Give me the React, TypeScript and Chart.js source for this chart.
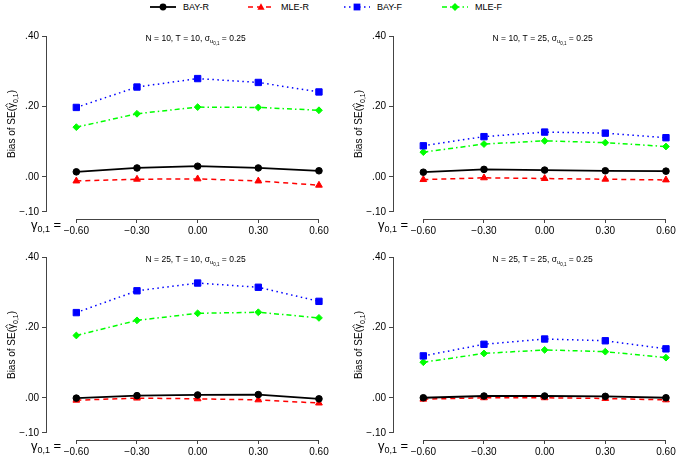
import { useEffect, useRef } from "react";
import { Chart, registerables } from "chart.js";

Chart.register(...registerables);

const FONT = "'Liberation Sans', Arial, Helvetica, sans-serif";

// x: gamma_{0,1} values, y: bias of SE
const gammaValues = [-0.6, -0.3, 0, 0.3, 0.6];
const xTickLabels = ["−0.60", "−0.30", "0.00", "0.30", "0.60"];
const yTickValues = [-0.1, 0, 0.2, 0.4];
const yTickLabels = ["−.10", ".00", ".20", ".40"];

const seriesNames = ["BAY-R", "MLE-R", "BAY-F", "MLE-F"];

const panelN = [10, 10, 25, 25];
const panelT = [10, 25, 10, 25];
const panelSigma = ["0.25", "0.25", "0.25", "0.25"];

// N = 10, T = 10
const bayR_10_10 = [0.014, 0.025, 0.03, 0.025, 0.017];
const mleR_10_10 = [-0.012, -0.007, -0.006, -0.012, -0.024];
const bayF_10_10 = [0.197, 0.255, 0.279, 0.268, 0.241];
const mleF_10_10 = [0.141, 0.179, 0.198, 0.197, 0.189];

// N = 10, T = 25
const bayR_10_25 = [0.013, 0.021, 0.019, 0.017, 0.016];
const mleR_10_25 = [-0.008, -0.003, -0.005, -0.007, -0.009];
const bayF_10_25 = [0.088, 0.114, 0.127, 0.124, 0.111];
const mleF_10_25 = [0.07, 0.093, 0.102, 0.097, 0.086];

// N = 25, T = 10
const bayR_25_10 = [-0.001, 0.006, 0.008, 0.009, -0.003];
const mleR_25_10 = [-0.007, -0.001, -0.003, -0.006, -0.015];
const bayF_25_10 = [0.242, 0.304, 0.326, 0.314, 0.274];
const mleF_25_10 = [0.177, 0.22, 0.24, 0.243, 0.227];

// N = 25, T = 25
const bayR_25_25 = [0.0, 0.005, 0.005, 0.004, 0.0];
const mleR_25_25 = [-0.004, 0.0, 0.0, -0.002, -0.006];
const bayF_25_25 = [0.119, 0.152, 0.167, 0.162, 0.139];
const mleF_25_25 = [0.101, 0.126, 0.136, 0.131, 0.114];

const panelSeries = [
  [bayR_10_10, mleR_10_10, bayF_10_10, mleF_10_10],
  [bayR_10_25, mleR_10_25, bayF_10_25, mleF_10_25],
  [bayR_25_10, mleR_25_10, bayF_25_10, mleF_25_10],
  [bayR_25_25, mleR_25_25, bayF_25_25, mleF_25_25],
];

// styles
const seriesColors = ["#000000", "#FF0000", "#0000FF", "#00FF00"];
const seriesDash = [[], [5, 4], [1.5, 3.5], [5, 3, 1.5, 3]];
const seriesMarkers = ["circle", "triangle", "rect", "rectRot"];
const seriesRadius = [3.3, 3.9, 4.5, 3.4];
const seriesWidth = [1.8, 1.5, 1.5, 1.5];

type Part = { t: string; size: number; dy?: number; hat?: boolean };

function partsWidth(ctx: CanvasRenderingContext2D, parts: Part[]) {
  let w = 0;
  for (const p of parts) {
    ctx.font = `${p.size}px ${FONT}`;
    w += ctx.measureText(p.t).width;
  }
  return w;
}

function drawParts(ctx: CanvasRenderingContext2D, parts: Part[], x: number, y: number) {
  let cx = x;
  ctx.textAlign = "left";
  ctx.textBaseline = "alphabetic";
  for (const p of parts) {
    ctx.font = `${p.size}px ${FONT}`;
    const w = ctx.measureText(p.t).width;
    ctx.fillText(p.t, cx, y + (p.dy || 0));
    if (p.hat) {
      // circumflex over the glyph
      const mid = cx + w / 2;
      const top = y - p.size * 0.92;
      ctx.save();
      ctx.strokeStyle = "#000";
      ctx.lineWidth = 0.9;
      ctx.beginPath();
      ctx.moveTo(mid - 2, top + 2);
      ctx.lineTo(mid, top);
      ctx.lineTo(mid + 2, top + 2);
      ctx.stroke();
      ctx.restore();
    }
    cx += w;
  }
}

function Panel({ index, left, top, width, height, padRight }: any) {
  const canvasRef = useRef<HTMLCanvasElement>(null);

  useEffect(() => {
    if (!canvasRef.current) return;

    const decor = {
      id: "panelDecor",
      afterDraw(chart: any) {
        const { ctx, chartArea, scales } = chart;
        const x = scales.x;
        const y = scales.y;
        ctx.save();
        ctx.strokeStyle = "#444";
        ctx.lineWidth = 1;
        // axis lines, R style (only between end ticks)
        const ax = Math.round(chartArea.left) + 0.5;
        ctx.beginPath();
        ctx.moveTo(ax, y.getPixelForValue(0.4));
        ctx.lineTo(ax, y.getPixelForValue(-0.1));
        ctx.stroke();
        const ay = Math.round(chartArea.bottom) + 0.5;
        ctx.beginPath();
        ctx.moveTo(x.getPixelForValue(-0.6), ay);
        ctx.lineTo(x.getPixelForValue(0.6), ay);
        ctx.stroke();

        ctx.fillStyle = "#000";

        // panel title
        const title: Part[] = [
          { t: `N = ${panelN[index]}, T = ${panelT[index]}, σ`, size: 8.5 },
          { t: "u", size: 6, dy: 2 },
          { t: "0,1", size: 4.5, dy: 3.5 },
          { t: ` = ${panelSigma[index]}`, size: 8.5 },
        ];
        const tw = partsWidth(ctx, title);
        drawParts(ctx, title, x.getPixelForValue(0) - 2 - tw / 2, chartArea.top + 5);

        // y axis title
        const yTitle: Part[] = [
          { t: "Bias of SE(", size: 10 },
          { t: "γ", size: 10, hat: true },
          { t: "0,1", size: 7, dy: 2.5 },
          { t: ")", size: 10 },
        ];
        const yw = partsWidth(ctx, yTitle);
        ctx.save();
        ctx.translate(11.5, (y.getPixelForValue(0.4) + y.getPixelForValue(-0.1)) / 2);
        ctx.rotate(-Math.PI / 2);
        drawParts(ctx, yTitle, -yw / 2, 3.5);
        ctx.restore();

        // gamma label before the x ticks
        const gLabel: Part[] = [
          { t: "γ", size: 13 },
          { t: "0,1", size: 9, dy: 2.5 },
          { t: " =", size: 13 },
        ];
        drawParts(ctx, gLabel, 31, chartArea.bottom + 10);
        ctx.restore();
      },
    };

    const series = panelSeries[index];
    const chart = new Chart(canvasRef.current, {
      type: "line",
      data: {
        datasets: series.map((vals: number[], i: number) => ({
          label: seriesNames[i],
          data: gammaValues.map((g, j) => ({ x: g, y: vals[j] })),
          borderColor: seriesColors[i],
          backgroundColor: seriesColors[i],
          borderWidth: seriesWidth[i],
          borderDash: seriesDash[i],
          pointStyle: seriesMarkers[i] as any,
          pointRadius: seriesRadius[i],
          pointBorderWidth: 1,
          pointBackgroundColor: seriesColors[i],
          pointBorderColor: seriesColors[i],
          tension: 0,
        })),
      },
      options: {
        responsive: false,
        animation: false,
        layout: { padding: { top: 18, right: padRight, bottom: 0, left: 0 } },
        plugins: {
          legend: { display: false },
          tooltip: { enabled: false },
        },
        scales: {
          x: {
            type: "linear",
            min: -0.75,
            max: 0.62,
            afterBuildTicks: (s: any) => {
              s.ticks = gammaValues.map((v) => ({ value: v }));
            },
            afterFit: (s: any) => {
              s.height = 18;
            },
            ticks: {
              callback: (_v: any, i: number) => xTickLabels[i],
              font: { family: FONT, size: 10 },
              color: "#000",
              padding: 2,
              maxRotation: 0,
              autoSkip: false,
            },
            grid: { drawOnChartArea: false, drawTicks: true, tickLength: 4, color: "#444" },
            border: { display: false },
          },
          y: {
            min: -0.12,
            max: 0.4,
            afterBuildTicks: (s: any) => {
              s.ticks = yTickValues.map((v) => ({ value: v }));
            },
            afterFit: (s: any) => {
              s.width = 46;
            },
            ticks: {
              callback: (_v: any, i: number) => yTickLabels[i],
              font: { family: FONT, size: 10 },
              color: "#000",
              padding: 3,
              autoSkip: false,
            },
            grid: { drawOnChartArea: false, drawTicks: true, tickLength: 4, color: "#444" },
            border: { display: false },
          },
        },
      },
      plugins: [decor],
    });

    return () => {
      chart.destroy();
    };
  }, [index, padRight]);

  return (
    <canvas
      ref={canvasRef}
      width={width}
      height={height}
      style={{ position: "absolute", left, top, width, height }}
    />
  );
}

function LegendSample({ i }: { i: number }) {
  const c = seriesColors[i];
  const dash = seriesDash[i].length ? seriesDash[i].join(" ") : undefined;
  let marker = null;
  if (i === 0) marker = <circle cx={13} cy={5} r={3.4} fill={c} />;
  if (i === 1) marker = <polygon points="13,1.2 16.6,7.8 9.4,7.8" fill={c} />;
  if (i === 2) marker = <rect x={9.6} y={1.6} width={6.8} height={6.8} fill={c} />;
  if (i === 3) marker = <polygon points="13,1 17,5 13,9 9,5" fill={c} />;
  return (
    <svg width={26} height={10} style={{ position: "absolute", left: 0, top: 2 }}>
      <line x1={0} y1={5} x2={26} y2={5} stroke={c} strokeWidth={i === 0 ? 1.8 : 1.5} strokeDasharray={dash} />
      {marker}
    </svg>
  );
}

const legendLeft = [150, 248, 344, 442];

export default function App() {
  return (
    <div
      style={{
        position: "absolute",
        left: 0,
        top: 0,
        width: 680,
        height: 458,
        background: "#fff",
        overflow: "hidden",
      }}
    >
      {seriesNames.map((name, i) => (
        <div key={name} style={{ position: "absolute", left: legendLeft[i], top: 0, width: 90, height: 14 }}>
          <LegendSample i={i} />
          <span
            style={{
              position: "absolute",
              left: 33,
              top: 0,
              fontFamily: FONT,
              fontSize: 9,
              lineHeight: "14px",
              color: "#000",
              whiteSpace: "nowrap",
            }}
          >
            {name}
          </span>
        </div>
      ))}
      <Panel index={0} left={0} top={18} width={340} height={219} padRight={17} />
      <Panel index={1} left={347} top={18} width={333} height={219} padRight={10} />
      <Panel index={2} left={0} top={239} width={340} height={219} padRight={17} />
      <Panel index={3} left={347} top={239} width={333} height={219} padRight={10} />
    </div>
  );
}
